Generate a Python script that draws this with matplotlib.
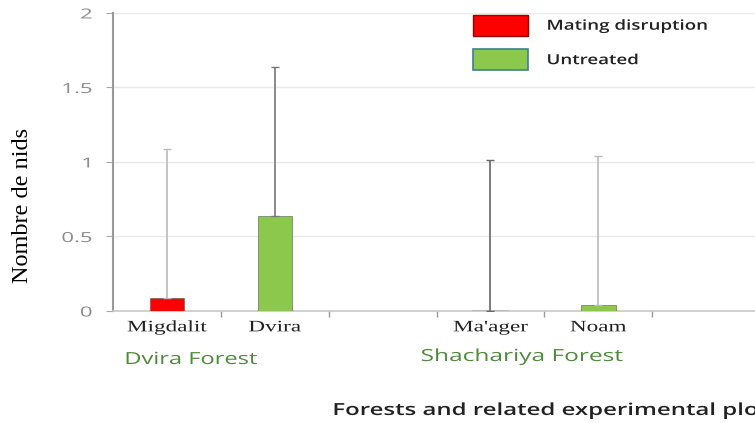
import matplotlib
matplotlib.use('Agg')
import matplotlib.pyplot as plt
from matplotlib.patches import Patch
from matplotlib.patheffects import AbstractPathEffect
from matplotlib.transforms import Affine2D
import numpy as np

plots = ['Migdalit', 'Dvira', '', "Ma'ager", 'Noam', '']
treatment = ['Mating disruption', 'Untreated', None, 'Mating disruption', 'Untreated', None]
nests = [0.09, 0.64, 0.0, 0.0, 0.04, 0.0]
err_up = [1.00, 1.00, 0.0, 1.01, 1.00, 0.0]
forests = ['Dvira Forest', 'Shachariya Forest']
yticks = [0, 0.5, 1, 1.5, 2]

colors = {'Mating disruption': '#ff0000', 'Untreated': '#8cc84b'}
err_colors = ['#bbbbbb', '#777777', None, '#666666', '#bbbbbb', None]


class HStretch(AbstractPathEffect):
    # the source picture is squashed wide, so widen the glyphs the same way
    def __init__(self, sx, anchor=0.5):
        super().__init__()
        self.sx = sx
        self.anchor = anchor

    def draw_path(self, renderer, gc, tpath, affine, rgbFace=None):
        bb = tpath.get_extents(affine)
        x0 = bb.x0 + self.anchor * bb.width
        st = Affine2D().translate(-x0, 0).scale(self.sx, 1).translate(x0, 0)
        renderer.draw_path(gc, tpath, affine + st, rgbFace)


fig = plt.figure(figsize=(7.55, 4.23), dpi=100)
ax = fig.add_axes([0.1497, 0.2648, 0.857, 0.7045])

x = np.arange(len(plots))
for i in x:
    if treatment[i] is None:
        continue
    h = nests[i]
    if h > 0:
        ax.bar(i, h, width=0.32, color=colors[treatment[i]], edgecolor='#555555',
               linewidth=0.4, zorder=3)
    else:
        ax.plot([i - 0.16, i + 0.16], [0.003, 0.003], color='#bbbbbb', lw=1.5, zorder=3)
    ax.errorbar(i, h, yerr=[[0], [err_up[i]]], fmt='none', ecolor=err_colors[i],
                elinewidth=1.2, capsize=3, capthick=1, zorder=4)

ax.set_xlim(-0.5, 5.5)
ax.set_ylim(0, 2)
ax.set_yticks(yticks)
ax.set_yticklabels(['0', '0.5', '1', '1.5', '2'], fontfamily='Open Sans',
                   fontsize=10, color='#8c8c8c')
ax.tick_params(axis='y', length=5, width=0.8, color='#aaaaaa', pad=10)
ax.set_xticks(x)
ax.set_xticklabels(plots, fontfamily='Liberation Serif', fontsize=11.5, color='#222222')
ax.tick_params(axis='x', length=0, pad=6)
ax.set_xticks(np.arange(0.5, 5.6, 1.0), minor=True)
ax.tick_params(axis='x', which='minor', length=4, width=1.0, color='#999999')
ax.yaxis.grid(True, color='#e9e9e9', lw=1)
ax.set_axisbelow(True)
for s in ['top', 'right']:
    ax.spines[s].set_visible(False)
ax.spines['left'].set_color('#999999')
ax.spines['left'].set_linewidth(1.5)
ax.spines['bottom'].set_color('#c8c8c8')
ax.spines['bottom'].set_linewidth(1.2)

for t in ax.get_yticklabels():
    t.set_path_effects([HStretch(1.6, anchor=1.0)])
for t in ax.get_xticklabels():
    t.set_path_effects([HStretch(1.45)])

fig.text(23 / 755, 1 - 205 / 423, 'Nombre de nids', rotation=90, ha='center',
         va='center', fontfamily='Liberation Serif', fontsize=17.5)
g1 = fig.text(125 / 755, 1 - 360 / 423, forests[0], ha='left', va='center',
              fontfamily='Open Sans', fontsize=12, color='#4d8a3a')
g2 = fig.text(421 / 755, 1 - 357 / 423, forests[1], ha='left', va='center',
              fontfamily='Open Sans', fontsize=12, color='#4d8a3a')
ttl = fig.text(333 / 755, 1 - 411 / 423, 'Forests and related experimental plots',
               ha='left', va='center', fontfamily='Open Sans', fontsize=12,
               fontweight='semibold', color='#222222')
g1.set_path_effects([HStretch(1.42, anchor=0.0)])
g2.set_path_effects([HStretch(1.47, anchor=0.0)])
ttl.set_path_effects([HStretch(1.44, anchor=0.0)])

handles = [Patch(facecolor=colors['Mating disruption'], edgecolor='#990000', lw=1),
           Patch(facecolor=colors['Untreated'], edgecolor='#3f7f8f', lw=1.2)]
leg = fig.legend(handles, ['Mating disruption', 'Untreated'], loc='upper left',
                 bbox_to_anchor=(473 / 755, 1 - 15 / 423), frameon=False,
                 borderpad=0, borderaxespad=0, handlelength=3.95, handleheight=1.9,
                 handletextpad=1.37, labelspacing=1.0,
                 prop={'family': 'Open Sans', 'size': 10, 'weight': 'semibold'})
for t in leg.get_texts():
    t.set_color('#222222')
    t.set_path_effects([HStretch(1.35, anchor=0.0)])

fig.savefig('out.png', dpi=100)
